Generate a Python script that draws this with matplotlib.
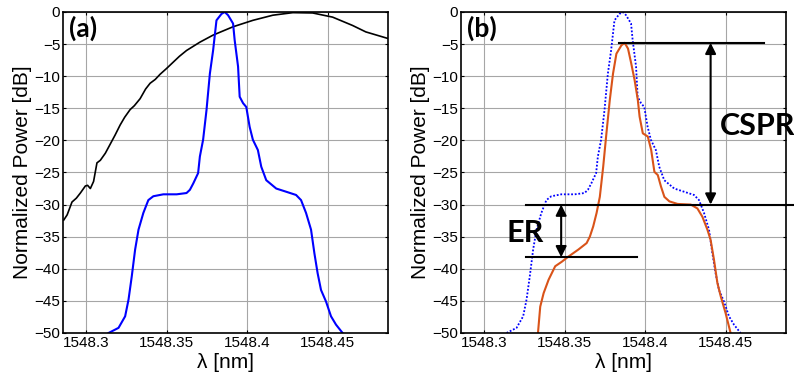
import matplotlib
matplotlib.use("Agg")
import matplotlib.pyplot as plt

# panel (a): broad black spectrum
black_x = [1548.2862, 1548.2883, 1548.2913, 1548.2940, 1548.2965, 1548.2996, 1548.3010, 1548.3027,
           1548.3047, 1548.3068, 1548.3089, 1548.3120, 1548.3150, 1548.3180, 1548.3212, 1548.3240,
           1548.3274, 1548.3300, 1548.3336, 1548.3370, 1548.3398, 1548.3430, 1548.3460, 1548.3500,
           1548.3542, 1548.3580, 1548.3624, 1548.3707, 1548.3789, 1548.3913, 1548.4036, 1548.4160,
           1548.4284, 1548.4407, 1548.4531, 1548.4655, 1548.4737, 1548.4871]
black_y = [-32.4, -31.6, -29.6, -29.0, -28.2, -27.1, -27.0, -27.5,
           -26.4, -23.5, -23.1, -22.0, -20.6, -19.2, -17.6, -16.4,
           -15.2, -14.6, -13.5, -12.0, -11.1, -10.5, -9.7, -8.8,
           -7.8, -6.9, -6.0, -4.7, -3.6, -2.3, -1.3, -0.5,
           -0.1, -0.15, -0.8, -2.1, -3.1, -4.1]

# blue spectrum (same trace in both panels)
blue_x = [1548.3140, 1548.3202, 1548.3243, 1548.3264, 1548.3284, 1548.3305, 1548.3326, 1548.3356,
          1548.3387, 1548.3418, 1548.3480, 1548.3563, 1548.3624, 1548.3645, 1548.3666, 1548.3696,
          1548.3707, 1548.3727, 1548.3748, 1548.3769, 1548.3789, 1548.3810, 1548.3841, 1548.3861,
          1548.3882, 1548.3913, 1548.3923, 1548.3944, 1548.3954, 1548.3975, 1548.3995, 1548.4016,
          1548.4036, 1548.4067, 1548.4088, 1548.4119, 1548.4181, 1548.4243, 1548.4304, 1548.4335,
          1548.4366, 1548.4397, 1548.4418, 1548.4438, 1548.4459, 1548.4490, 1548.4521, 1548.4552,
          1548.4593]
blue_y = [-50.0, -49.2, -47.4, -44.8, -41.2, -37.0, -33.9, -31.3,
          -29.3, -28.7, -28.4, -28.4, -28.2, -27.7, -26.7, -25.1,
          -22.5, -19.9, -15.3, -9.6, -6.0, -1.3, -0.3, 0.0,
          -0.5, -1.8, -4.4, -8.5, -13.2, -14.2, -14.8, -17.9,
          -19.9, -21.5, -24.1, -26.2, -27.5, -28.0, -28.5, -29.3,
          -31.3, -33.9, -37.6, -40.7, -43.3, -45.1, -47.4, -48.7,
          -50.0]

# panel (b): orange spectrum
orange_x = [1548.3335, 1548.3349, 1548.3370, 1548.3401, 1548.3442, 1548.3483, 1548.3524, 1548.3586,
            1548.3637, 1548.3657, 1548.3678, 1548.3699, 1548.3719, 1548.3740, 1548.3760, 1548.3781,
            1548.3801, 1548.3822, 1548.3853, 1548.3873, 1548.3894, 1548.3914, 1548.3935, 1548.3955,
            1548.3966, 1548.3986, 1548.4017, 1548.4038, 1548.4058, 1548.4079, 1548.4099, 1548.4120,
            1548.4151, 1548.4202, 1548.4284, 1548.4325, 1548.4356, 1548.4387, 1548.4407, 1548.4428,
            1548.4449, 1548.4470, 1548.4500, 1548.4531]
orange_y = [-50.0, -45.9, -43.8, -41.7, -39.6, -38.9, -38.1, -37.0,
            -36.0, -35.0, -33.4, -31.3, -28.8, -24.1, -18.9, -13.7,
            -9.6, -6.5, -5.2, -4.8, -5.7, -8.0, -10.6, -13.7,
            -16.3, -18.9, -19.4, -21.5, -24.9, -25.4, -27.2, -28.8,
            -29.5, -29.9, -30.0, -30.6, -31.9, -33.9, -35.5, -38.6,
            -42.2, -44.3, -46.9, -50.0]

x_ticks = [1548.3, 1548.35, 1548.4, 1548.45]
x_tick_labels = ["1548.3", "1548.35", "1548.4", "1548.45"]
y_ticks = [0, -5, -10, -15, -20, -25, -30, -35, -40, -45, -50]

cspr_top, carrier_level, er_low = -4.8, -30.0, -38.2
cspr_x, er_x = 1548.4407, 1548.3479

plt.rcParams['font.family'] = ['Liberation Sans', 'DejaVu Sans']
bold_font = ['Lato', 'DejaVu Sans']

fig = plt.figure(figsize=(7.94, 3.82), dpi=100)
ax_a = fig.add_axes([0.0793, 0.1283, 0.4094, 0.8403])
ax_b = fig.add_axes([0.5806, 0.1283, 0.4093, 0.8403])

for ax in (ax_a, ax_b):
    ax.set_xlim(1548.2857, 1548.4875)
    ax.set_ylim(-50, 0)
    ax.set_xticks(x_ticks)
    ax.set_xticklabels(x_tick_labels)
    ax.set_yticks(y_ticks)
    ax.grid(True, color='#a6a6a6', linestyle='-', linewidth=0.8)
    ax.tick_params(direction='in', top=True, right=True, labelsize=11, length=2.5, pad=2)
    ax.set_xlabel("λ [nm]", fontsize=15, labelpad=2)
    ax.set_ylabel("Normalized Power [dB]", fontsize=15, labelpad=2)
    for s in ax.spines.values():
        s.set_linewidth(1.2)

ax_a.plot(black_x, black_y, color='black', linewidth=1.2)
ax_a.plot(blue_x, blue_y, color='#0000FF', linewidth=1.5)
ax_a.text(0.018, 0.99, "(a)", transform=ax_a.transAxes, ha='left', va='top',
          fontsize=19, fontweight='bold', family=bold_font)

ax_b.plot(blue_x, blue_y, color='#0000FF', linewidth=1.3, linestyle=(0, (1, 1)))
ax_b.plot(orange_x, orange_y, color='#D95319', linewidth=1.5)
ax_b.text(0.018, 0.99, "(b)", transform=ax_b.transAxes, ha='left', va='top',
          fontsize=19, fontweight='bold', family=bold_font)

# reference levels
ax_b.plot([1548.3836, 1548.4736], [cspr_top, cspr_top], color='black', linewidth=1.5)
ax_b.plot([1548.3261, 1548.4931], [carrier_level, carrier_level], color='black',
          linewidth=1.5, clip_on=False)
ax_b.plot([1548.3263, 1548.3949], [er_low, er_low], color='black', linewidth=1.5)

arrow = dict(arrowstyle='<|-|>', color='black', lw=1.5, mutation_scale=16,
             shrinkA=0, shrinkB=0)
ax_b.annotate("", xy=(cspr_x, cspr_top), xytext=(cspr_x, carrier_level), arrowprops=arrow)
ax_b.annotate("", xy=(er_x, carrier_level), xytext=(er_x, er_low), arrowprops=arrow)

ax_b.text(1548.4698, -17.8, "CSPR", ha='center', va='center', fontsize=22,
          fontweight='bold', family=bold_font, clip_on=False)
ax_b.text(1548.3253, -34.4, "ER", ha='center', va='center', fontsize=22,
          fontweight='bold', family=bold_font)

fig.savefig("out.png", dpi=100)
